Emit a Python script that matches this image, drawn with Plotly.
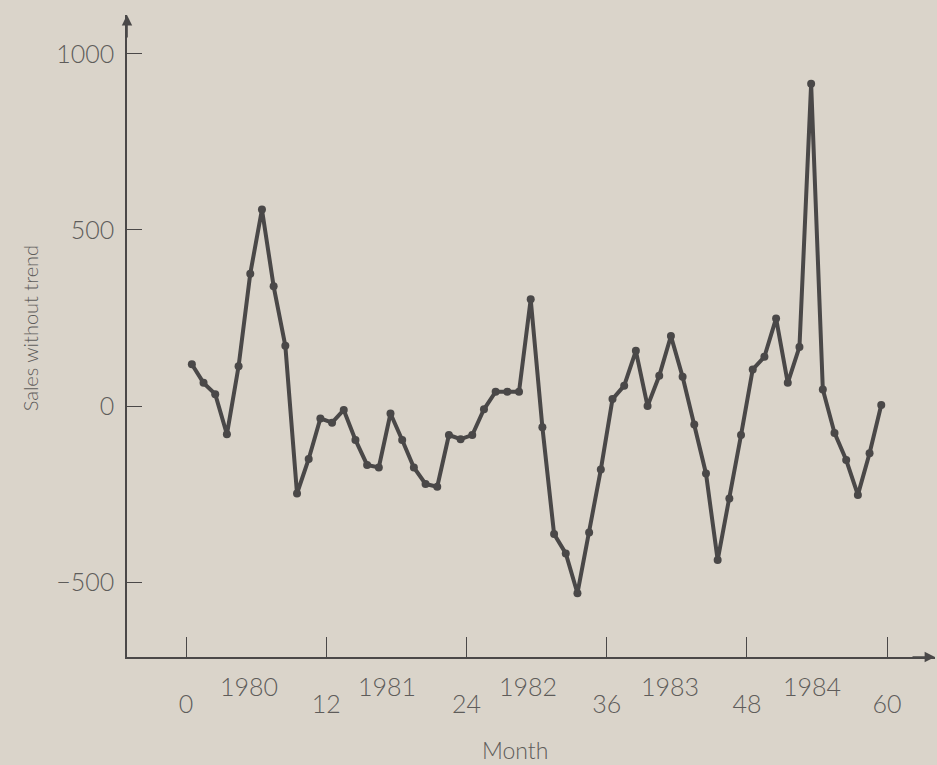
import plotly.graph_objects as go

# Detrended monthly sales, Jan 1980 - Dec 1984 (plotted at mid-month)
months = [m - 0.5 for m in range(1, 61)]
sales_detrended = [
    119, 66, 34, -80, 113, 376, 558, 340, 171, -248, -150, -35,
    -47, -11, -96, -167, -174, -21, -96, -174, -221, -229, -82, -94,
    -82, -9, 41, 41, 41, 303, -60, -363, -418, -531, -359, -180,
    20, 58, 157, 0, 86, 199, 83, -52, -191, -437, -262, -82,
    104, 140, 249, 66, 168, 915, 47, -76, -153, -252, -134, 3,
]

x_ticks = [0, 12, 24, 36, 48, 60]
y_ticks = [-500, 0, 500, 1000]
y_tick_text = ["\u2212500", "0", "500", "1000"]
years = ["1980", "1981", "1982", "1983", "1984"]
year_pos = [5.4, 17.2, 29.3, 41.4, 53.6]

INK = "#4a4848"
TXT = "#5e5c5a"
BG = "#dad4ca"
FONT = "Lato"

X_RANGE = [-5.05, 64.1]
Y_RANGE = [-712, 1110]

fig = go.Figure()
fig.add_trace(go.Scatter(
    x=months, y=sales_detrended,
    mode="lines+markers",
    line=dict(color=INK, width=4),
    marker=dict(color=INK, size=8),
    showlegend=False,
    cliponaxis=False,
))

fig.update_layout(
    width=937, height=765,
    margin=dict(l=127, r=2, t=15, b=108),
    paper_bgcolor=BG, plot_bgcolor=BG,
    font=dict(family=FONT, color=TXT, weight=300),
    xaxis=dict(
        range=X_RANGE, showgrid=False, zeroline=False,
        showline=True, linecolor=INK, linewidth=1.6,
        tickmode="array", tickvals=x_ticks,
        ticks="inside", ticklen=20, tickwidth=1.4, tickcolor=INK,
        tickfont=dict(size=25, color=TXT, family=FONT, weight=300),
        ticklabelstandoff=24,
    ),
    yaxis=dict(
        range=Y_RANGE, showgrid=False, zeroline=False,
        showline=True, linecolor=INK, linewidth=1.6,
        tickmode="array", tickvals=y_ticks, ticktext=y_tick_text,
        ticks="inside", ticklen=15, tickwidth=1.4, tickcolor=INK,
        tickfont=dict(size=25, color=TXT, family=FONT, weight=300),
        ticklabelstandoff=6,
    ),
)

# Year labels between the month ticks
for label, pos in zip(years, year_pos):
    fig.add_annotation(
        x=pos, y=0, xref="x", yref="paper",
        text=label, showarrow=False, yanchor="middle", yshift=-29,
        font=dict(size=25, color=TXT, family=FONT, weight=300),
    )

# Axis titles
fig.add_annotation(
    x=0.48, y=0, xref="paper", yref="paper",
    text="Month", showarrow=False, yanchor="middle", yshift=-93,
    font=dict(size=23, color=TXT, family=FONT, weight=300),
)
fig.add_annotation(
    x=0, y=0.512, xref="paper", yref="paper",
    text="Sales without trend", showarrow=False, textangle=-90,
    xanchor="center", xshift=-97,
    font=dict(size=20, color=TXT, family=FONT, weight=300),
)

# Arrowheads at the ends of both axes
fig.add_annotation(
    x=X_RANGE[0], y=Y_RANGE[1], xref="x", yref="y",
    ax=0, ay=24, text="", showarrow=True,
    arrowhead=2, arrowsize=1.3, arrowwidth=1.6, arrowcolor=INK,
)
fig.add_annotation(
    x=X_RANGE[1], y=Y_RANGE[0], xref="x", yref="y",
    ax=-24, ay=0, text="", showarrow=True,
    arrowhead=2, arrowsize=1.3, arrowwidth=1.6, arrowcolor=INK,
)

fig.write_html("out.html")
